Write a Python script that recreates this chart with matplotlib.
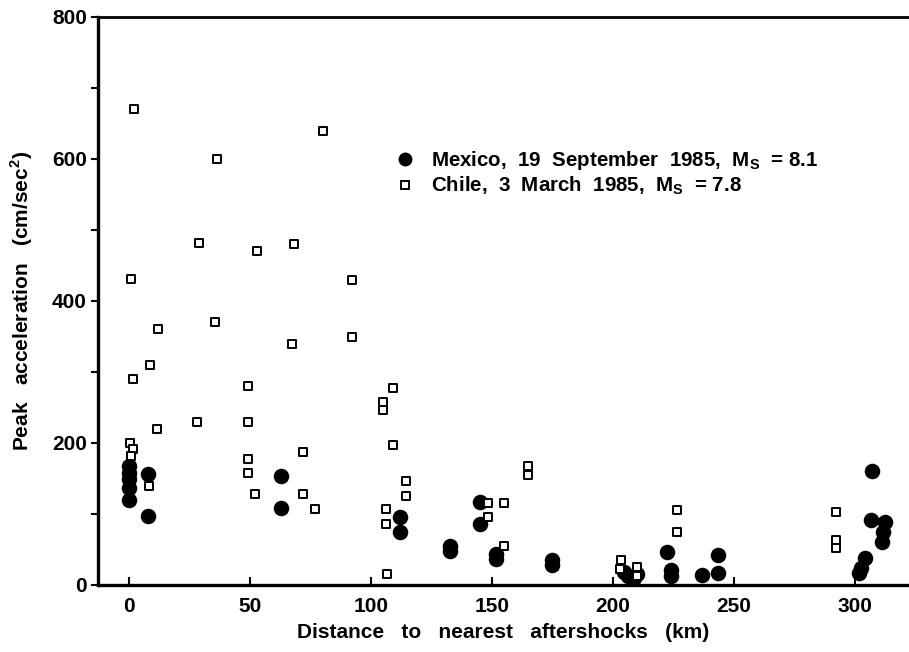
import matplotlib
matplotlib.use("Agg")
import matplotlib.pyplot as plt
from matplotlib.lines import Line2D
from matplotlib.ticker import MultipleLocator

plt.rcParams['font.family'] = ['Liberation Sans', 'DejaVu Sans']
plt.rcParams['font.weight'] = 'bold'
plt.rcParams['mathtext.fontset'] = 'custom'
plt.rcParams['mathtext.bf'] = 'Liberation Sans:bold'
plt.rcParams['mathtext.rm'] = 'Liberation Sans:bold'

# Mexico, 19 September 1985 (filled circles)
mexico_dist = [0, 0, 0, 0, 0, 8, 8, 63, 63, 112, 112, 132.6, 132.6, 145, 145,
               151.7, 151.7, 174.6, 174.6, 204.5, 206, 208.5, 210,
               222.5, 224, 224, 236.6, 243.5, 243.5,
               307, 306.5, 312.4, 311.4, 311, 304, 302.3, 301.8]
mexico_acc = [168, 158, 150, 136, 120, 156, 97, 153, 109, 96, 75, 55, 48, 117, 86,
              44, 36, 35, 28, 19, 13, 10, 16,
              46, 21, 12, 14, 42, 17,
              161, 91, 89, 75, 61, 38, 24, 17]

# Chile, 3 March 1985 (open squares)
chile_dist = [2.2, 36.4, 80, 29, 52.8, 68, 0.8, 92,
              35.5, 11.8, 67.2, 92, 8.5, 1.5, 49.2, 109, 105, 105, 28, 49.2, 11.6,
              0.3, 1.5, 0.7, 109, 72, 49.2, 49.2, 8.1, 52, 72, 77, 114.5, 114.5,
              106, 106, 106.6,
              164.7, 164.7, 148.2, 154.8, 148.2, 154.8, 203.3, 203, 210, 210,
              226.6, 226.6, 292, 292, 292]
chile_acc = [670, 600, 640, 481, 471, 480, 431, 430,
             370, 360, 340, 350, 310, 290, 280, 278, 258, 247, 230, 229, 220,
             200, 191, 182, 197, 188, 178, 158, 139, 128, 128, 107, 147, 126,
             107, 86, 16,
             167, 155, 116, 116, 96, 55, 35, 22, 26, 13,
             105, 74, 103, 64, 52]

xticks = [0, 50, 100, 150, 200, 250, 300]
yticks = [0, 200, 400, 600, 800]

fig = plt.figure(figsize=(9.09, 6.52), dpi=100)
ax = fig.add_axes([98/909, 67/652, 1 - 98/909, (585-17)/652])

ax.scatter(mexico_dist, mexico_acc, s=125, marker='o', color='black',
           linewidths=0, zorder=3)
ax.scatter(chile_dist, chile_acc, s=34, marker='s', facecolor='white',
           edgecolor='black', linewidths=1.4, zorder=4)

ax.set_xlim(-12.8, 322.3)
ax.set_ylim(0, 800)
ax.set_xticks(xticks)
ax.set_yticks(yticks)
ax.yaxis.set_minor_locator(MultipleLocator(100))
ax.tick_params(axis='x', direction='in', length=6, width=1.5, labelsize=15, pad=9)
ax.tick_params(axis='y', which='both', direction='out', length=5, width=1.5, labelsize=15, pad=3)
ax.tick_params(axis='y', which='minor', labelleft=False)

for side in ['left', 'bottom']:
    ax.spines[side].set_linewidth(2.4)
ax.spines['top'].set_linewidth(2.0)
ax.spines['right'].set_visible(False)

ax.set_xlabel("Distance   to   nearest   aftershocks   (km)", fontsize=15,
              fontweight='bold', labelpad=5)
ax.set_ylabel(r"Peak   acceleration   (cm/sec$^\mathbf{2}$)", fontsize=15,
              fontweight='bold', labelpad=12)

handles = [
    Line2D([], [], linestyle='none', marker='o', markersize=10, color='black',
           markeredgewidth=0),
    Line2D([], [], linestyle='none', marker='s', markersize=6, markerfacecolor='white',
           markeredgecolor='black', markeredgewidth=1.4),
]
labels = [r"Mexico,  19  September  1985,  $\mathbf{M_S}$  = 8.1",
          r"Chile,  3  March  1985,  $\mathbf{M_S}$  = 7.8"]
ax.legend(handles, labels, loc='upper left', bbox_to_anchor=(0.367, 0.768),
          frameon=False, fontsize=14.8, handlelength=0.9, handletextpad=0.8,
          labelspacing=0.15, borderpad=0, borderaxespad=0)

fig.savefig("out.png", dpi=100)
